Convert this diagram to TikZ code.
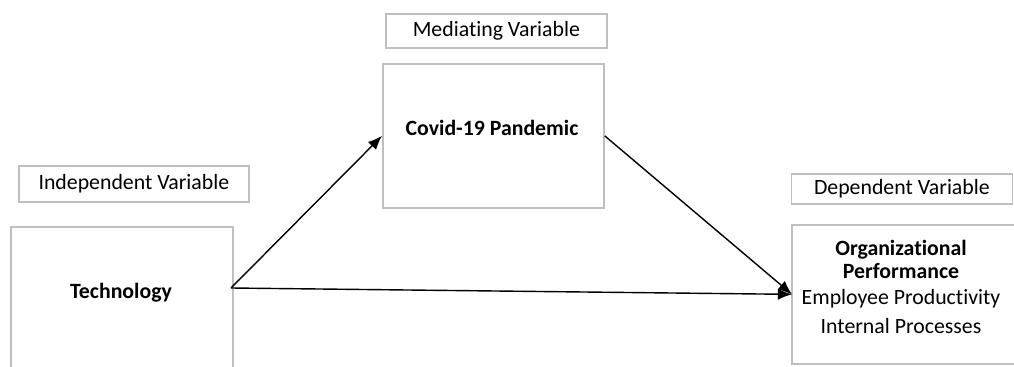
\documentclass[tikz,border=0pt]{standalone}
\usepackage{fontspec}
\setmainfont{Carlito}[Ligatures=NoCommon]
\usetikzlibrary{arrows.meta, positioning}

\begin{document}
\begin{tikzpicture}[x=0.025cm, y=-0.025cm,
    frame/.style={draw=black!25, line width=1.2pt, fill=white, inner sep=0pt},
    tag/.style={frame, minimum width=5.525cm, font=\fontsize{15.5}{16}\selectfont},
    title/.style={font=\fontsize{15.5}{16}\selectfont\bfseries},
    arrow/.style={-{Latex[length=10pt, width=8pt]}, line width=1pt}
  ]

  % page
  \useasboundingbox (0,0) rectangle (1014,367);

  % main boxes (the two lower ones run off the page)
  \node[frame, draw=none, anchor=north west, minimum width=5.5cm, minimum height=3.5cm] (techbox) at (11,227) {};
  \draw[frame] (techbox.south west) -- (techbox.north west) -- (techbox.north east) -- (techbox.south east);
  \node[frame, anchor=north west, minimum width=5.525cm, minimum height=3.6cm] (covidbox) at (382,63) {};
  \node[frame, draw=none, anchor=north west, minimum width=6.5cm, minimum height=3.425cm] (perfbox) at (792,225) {};
  \draw[frame] (perfbox.north east) -- (perfbox.north west) -- (perfbox.south west) -- (perfbox.south east);

  % texts inside the boxes
  \node[title] (tech) at (121,293) {Technology};
  \node[title] (covid) at (492,128) {Covid-19 Pandemic};
  \node[align=center, font=\fontsize{15.5}{16}\selectfont] (perf) at (901,287)
    {\textbf{Organizational}\\\textbf{Performance}\\[3pt]Employee Productivity\\[4.5pt]Internal Processes};

  % variable tags
  \node[tag, minimum width=5.75cm, minimum height=0.9cm, above=0.6cm of techbox.north, xshift=0.3cm] (indep) {Independent Variable};
  \node[tag, minimum height=0.85cm, above=0.35cm of covidbox.north, xshift=0.075cm] (mediating) {Mediating Variable};
  \node[tag, minimum height=0.75cm, above=0.5cm of perfbox.north, xshift=-0.525cm] (dependent) {Dependent Variable};

  % arrows
  \coordinate (src) at (231,288);
  \draw[arrow] (src) -- (covidbox.west);
  \draw[arrow] (covidbox.east) -- (perfbox.west);
  \draw[arrow] (src) -- (perfbox.west);

\end{tikzpicture}
\end{document}
